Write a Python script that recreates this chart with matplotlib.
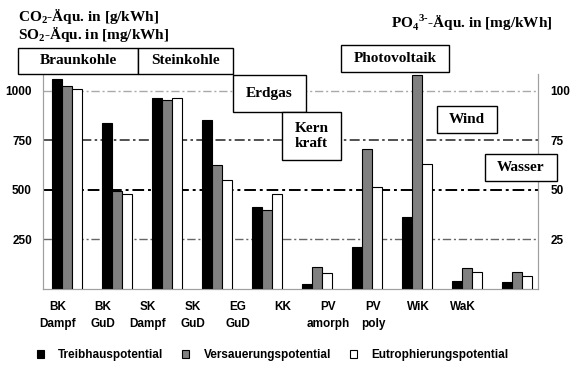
import numpy as np
import matplotlib.pyplot as plt
from matplotlib.patches import Rectangle

# values
labels = ["BK\nDampf", "BK\nGuD", "SK\nDampf", "SK\nGuD", "EG\nGuD",
          "KK", "PV\namorph", "PV\npoly", "WiK", "WaK"]
treibhaus = [1060, 838, 966, 855, 413, 24, 213, 364, 40, 34]          # g/kWh
versauerung = [1025, 494, 952, 627, 398, 111, 709, 1080, 107, 84]     # mg/kWh
eutrophierung = [101, 48, 96.5, 55, 48, 8, 51.5, 63, 8.4, 6.4]       # mg/kWh (right axis)
series_names = ["Treibhauspotential", "Versauerungspotential", "Eutrophierungspotential"]

plt.rcParams["mathtext.fontset"] = "custom"
plt.rcParams["mathtext.bf"] = "Liberation Serif:bold"
plt.rcParams["mathtext.rm"] = "Liberation Serif:bold"

W, H = 580, 370
fig = plt.figure(figsize=(W / 100, H / 100), dpi=100)
ax = fig.add_axes([43 / W, 1 - 289 / H, (538 - 43) / W, (289 - 74) / H])
ax2 = ax.twinx()

x = np.arange(len(labels))
bw = 0.2
b1 = ax.bar(x - bw, treibhaus, bw, color="black", edgecolor="black", lw=0.8, zorder=3)
b2 = ax.bar(x, versauerung, bw, color="#808080", edgecolor="black", lw=0.8, zorder=3)
b3 = ax2.bar(x + bw, eutrophierung, bw, color="white", edgecolor="black", lw=0.8, zorder=3)

ax.set_xlim(-0.48, 9.42)
ax.set_ylim(0, 1085)
ax2.set_ylim(0, 108.5)

# dash-dot grid lines
grid_style = {250: ("#666666", 1.0), 500: ("black", 1.4), 750: ("#333333", 1.2), 1000: ("#aaaaaa", 1.0)}
for yv, (c, lw) in grid_style.items():
    ax.axhline(yv, color=c, lw=lw, ls=(0, (6, 2, 1.5, 2)), zorder=1)

for a in (ax, ax2):
    a.spines["top"].set_visible(False)
    for s in ("left", "right", "bottom"):
        a.spines[s].set_color("#a0a0a0")
    a.tick_params(length=0)

ax.set_yticks([250, 500, 750, 1000])
ax.set_yticklabels(["250", "500", "750", "1000"], fontweight="bold", fontsize=8.5,
                   family="Liberation Sans")
ax.tick_params(axis="y", pad=8)
ax2.set_yticks([25, 50, 75, 100])
ax2.set_yticklabels(["25", "50", "75", "100"], fontweight="bold", fontsize=8.5,
                    family="Liberation Sans")
ax2.tick_params(axis="y", pad=9)

ax.set_xticks(x * 0.9 - 0.18)
ax.set_xticklabels(labels, fontweight="bold", fontsize=8.5, family="Liberation Sans",
                   linespacing=1.5, va="top")
ax.tick_params(axis="x", pad=9)

serif = dict(family="Liberation Serif", fontweight="bold", fontsize=11)
fig.text(18 / W, 1 - 16 / H, r"CO$_\mathbf{2}$-Äqu. in [g/kWh]", va="center", **serif)
fig.text(18 / W, 1 - 35 / H, r"SO$_\mathbf{2}$-Äqu. in [mg/kWh]", va="center", **serif)
fig.text(553 / W, 1 - 23 / H, r"PO$_\mathbf{4}{}^\mathbf{3\text{-}}$-Äqu. in [mg/kWh]",
         va="center", ha="right", **serif)

# label boxes (pixel layout: x0, y0, x1, y1 from top-left)
boxes = [
    ("Braunkohle", 18, 48, 138, 74),
    ("Steinkohle", 138, 48, 233, 74),
    ("Erdgas", 233, 75, 306, 112),
    ("Kern\nkraft", 282, 112, 341, 160),
    ("Photovoltaik", 341, 45, 449, 72),
    ("Wind", 437, 106, 497, 133),
    ("Wasser", 485, 154, 557, 181),
]
for txt, x0, y0, x1, y1 in boxes:
    fig.patches.append(Rectangle((x0 / W, 1 - y1 / H), (x1 - x0) / W, (y1 - y0) / H,
                                 transform=fig.transFigure, facecolor="white",
                                 edgecolor="black", lw=1, zorder=5))
    fig.text((x0 + x1) / 2 / W, 1 - (y0 + y1) / 2 / H, txt, ha="center", va="center",
             zorder=6, linespacing=1.15, **serif)

fig.legend([b1, b2, b3], series_names, loc="center", bbox_to_anchor=(0.47, 1 - 355 / H),
           ncol=3, frameon=False, handlelength=0.6, handleheight=0.6, handletextpad=1.2,
           columnspacing=1.6, prop=dict(family="Liberation Sans", weight="bold", size=8.5))

fig.savefig("out.png", dpi=100)
